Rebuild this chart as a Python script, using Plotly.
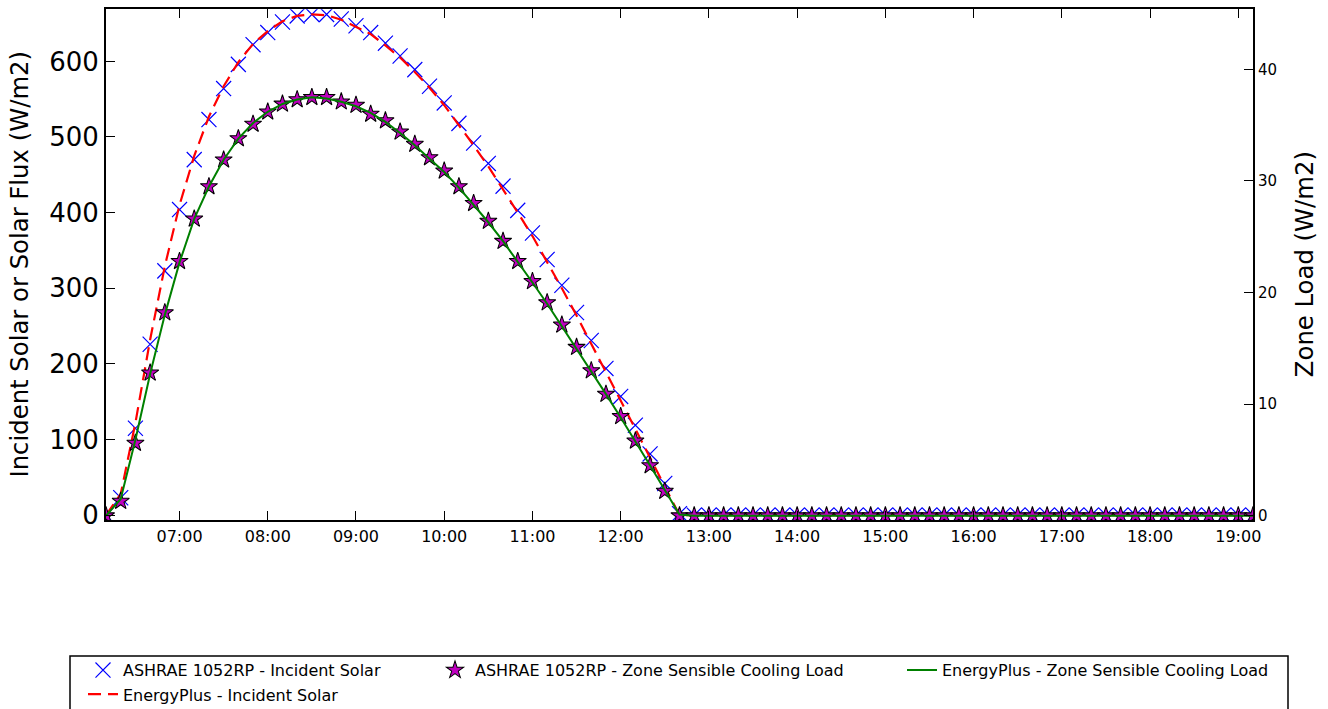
import plotly.graph_objects as go

# ---------------- data ----------------
times = [
    "06:10", "06:20", "06:30", "06:40", "06:50",
    "07:00", "07:10", "07:20", "07:30", "07:40", "07:50",
    "08:00", "08:10", "08:20", "08:30", "08:40", "08:50",
    "09:00", "09:10", "09:20", "09:30", "09:40", "09:50",
    "10:00", "10:10", "10:20", "10:30", "10:40", "10:50",
    "11:00", "11:10", "11:20", "11:30", "11:40", "11:50",
    "12:00", "12:10", "12:20", "12:30", "12:40", "12:50",
    "13:00", "13:10", "13:20", "13:30", "13:40", "13:50",
    "14:00", "14:10", "14:20", "14:30", "14:40", "14:50",
    "15:00", "15:10", "15:20", "15:30", "15:40", "15:50",
    "16:00", "16:10", "16:20", "16:30", "16:40", "16:50",
    "17:00", "17:10", "17:20", "17:30", "17:40", "17:50",
    "18:00", "18:10", "18:20", "18:30", "18:40", "18:50",
    "19:00", "19:10",
]

ashrae_solar = [
    0, 23, 115, 226, 323, 404, 470, 523, 564, 596, 622,
    638, 652, 660, 662, 662, 656, 647, 638, 624, 607, 589,
    567, 545, 518, 492, 465, 435, 403, 373, 338, 304, 268,
    231, 194, 157, 119, 81, 42, 2,
    0, 0, 0, 0, 0, 0, 0, 0, 0, 0, 0, 0, 0, 0, 0, 0, 0, 0, 0, 0,
    0, 0, 0, 0, 0, 0, 0, 0, 0, 0, 0, 0, 0, 0, 0, 0, 0, 0, 0,
]

eplus_solar = [
    0, 28, 122, 232, 329, 410, 475, 527, 567, 599, 623,
    640, 653, 660, 662, 661, 655, 646, 636, 621, 605, 586,
    565, 542, 516, 489, 461, 431, 400, 369, 335, 300, 264,
    227, 190, 152, 114, 76, 37, 0,
    0, 0, 0, 0, 0, 0, 0, 0, 0, 0, 0, 0, 0, 0, 0, 0, 0, 0, 0, 0,
    0, 0, 0, 0, 0, 0, 0, 0, 0, 0, 0, 0, 0, 0, 0, 0, 0, 0, 0,
]

ashrae_load = [
    0.0, 1.3, 6.5, 12.8, 18.2, 22.8, 26.6, 29.5, 31.9, 33.8, 35.1,
    36.2, 36.9, 37.3, 37.5, 37.5, 37.1, 36.8, 36.0, 35.4, 34.4, 33.3,
    32.1, 30.9, 29.5, 28.0, 26.4, 24.6, 22.8, 21.0, 19.1, 17.1, 15.1,
    13.0, 10.9, 8.9, 6.7, 4.5, 2.2, 0.0,
    0, 0, 0, 0, 0, 0, 0, 0, 0, 0, 0, 0, 0, 0, 0, 0, 0, 0, 0, 0,
    0, 0, 0, 0, 0, 0, 0, 0, 0, 0, 0, 0, 0, 0, 0, 0, 0, 0, 0,
]

eplus_load = [
    0.0, 1.5, 6.8, 12.7, 18.0, 22.7, 26.6, 29.5, 31.9, 33.8, 35.2,
    36.2, 36.9, 37.3, 37.5, 37.4, 37.1, 36.7, 36.1, 35.3, 34.3, 33.2,
    32.0, 30.8, 29.4, 27.9, 26.3, 24.6, 22.8, 20.9, 19.0, 17.0, 15.0,
    12.9, 10.9, 8.8, 6.7, 4.5, 2.3, 0.1,
    0, 0, 0, 0, 0, 0, 0, 0, 0, 0, 0, 0, 0, 0, 0, 0, 0, 0, 0, 0,
    0, 0, 0, 0, 0, 0, 0, 0, 0, 0, 0, 0, 0, 0, 0, 0, 0, 0, 0,
]

names = [
    "ASHRAE 1052RP - Incident Solar",
    "EnergyPlus - Incident Solar",
    "ASHRAE 1052RP - Zone Sensible Cooling Load",
    "EnergyPlus - Zone Sensible Cooling Load",
]

left_ticks = [0, 100, 200, 300, 400, 500, 600]
right_ticks = [0, 10, 20, 30, 40]

DAY = "2000-01-01 "
x = [DAY + t for t in times]

FONT = "DejaVu Sans"

# ---------------- layout geometry (pixels) ----------------
W, H = 1328, 709
L, R, T, B = 106, 75, 7, 190
PW = W - L - R
PH = H - T - B


def px_x(p):
    return (p - L) / PW


def px_y(p):
    return (H - B - p) / PH


fig = go.Figure()

fig.add_trace(go.Scatter(
    x=x, y=ashrae_solar, name=names[0], mode="markers",
    marker=dict(symbol="x-thin", size=15, color="#0000ff",
                line=dict(color="#0000ff", width=1.2)),
    legend="legend",
))
fig.add_trace(go.Scatter(
    x=x, y=eplus_solar, name=names[1], mode="lines",
    line=dict(color="#ff0000", width=2.2, dash="13px,7px"),
    legend="legend",
))
fig.add_trace(go.Scatter(
    x=x, y=ashrae_load, name=names[2], mode="markers", yaxis="y2",
    marker=dict(symbol="star", size=13, color="#bf00bf",
                line=dict(color="#000000", width=1)),
    legend="legend2",
))
fig.add_trace(go.Scatter(
    x=x, y=eplus_load, name=names[3], mode="lines", yaxis="y2",
    line=dict(color="#008000", width=2),
    legend="legend3",
))

axis_common = dict(
    showgrid=False, zeroline=False, showline=True, linecolor="black",
    linewidth=2, ticks="inside", ticklen=9, tickwidth=1, tickcolor="black",
)

legend_common = dict(
    bgcolor="rgba(0,0,0,0)", borderwidth=0,
    font=dict(family=FONT, size=16, color="black"),
    orientation="v", xanchor="left", yanchor="top",
    tracegroupgap=0,
)

fig.update_layout(
    width=W, height=H,
    margin=dict(l=L, r=R, t=T, b=B, pad=0),
    paper_bgcolor="white", plot_bgcolor="white",
    font=dict(family=FONT, color="black"),
    showlegend=True,
    xaxis=dict(
        **axis_common, mirror="ticks", type="date",
        range=[DAY + times[0], DAY + times[-1]],
        tick0=DAY + "07:00", dtick=3600000, tickformat="%H:%M",
        tickfont=dict(family=FONT, size=16, color="black"),
    ),
    yaxis=dict(
        **axis_common, range=[-6.6, 669], tickvals=left_ticks,
        tickfont=dict(family=FONT, size=26, color="black"),
    ),
    yaxis2=dict(
        **axis_common, overlaying="y", side="right",
        range=[-0.4, 45.4], tickvals=right_ticks,
        tickfont=dict(family=FONT, size=15, color="black"),
    ),
    legend=dict(**legend_common, x=px_x(83), y=px_y(652)),
    legend2=dict(**legend_common, x=px_x(435), y=px_y(652)),
    legend3=dict(**legend_common, x=px_x(902), y=px_y(652)),
)

# axis titles
fig.add_annotation(
    text="Incident Solar or Solar Flux (W/m2)", textangle=-90,
    xref="paper", yref="paper", x=0, y=0.5, xshift=20 - L,
    xanchor="center", yanchor="middle", showarrow=False,
    font=dict(family=FONT, size=24, color="black"),
)
fig.add_annotation(
    text="Zone Load (W/m2)", textangle=-90,
    xref="paper", yref="paper", x=1, y=0.5, xshift=1305 - (W - R),
    xanchor="center", yanchor="middle", showarrow=False,
    font=dict(family=FONT, size=24, color="black"),
)

# legend frame
fig.add_shape(
    type="rect", xref="paper", yref="paper",
    x0=px_x(70), x1=px_x(1288), y0=px_y(655), y1=px_y(716),
    line=dict(color="black", width=1.5), fillcolor="rgba(0,0,0,0)",
    layer="above",
)

fig.write_html(
    "out.html",
    config={"displayModeBar": False},
    post_script=(
        "document.documentElement.style.margin='0px';"
        "document.documentElement.style.overflow='hidden';"
        "document.body.style.margin='0px';"
        "document.body.style.padding='0px';"
        "document.body.style.overflow='hidden';"
        "var gd=document.getElementById('{plot_id}');"
        "gd.style.position='fixed';gd.style.top='0px';gd.style.left='0px';"
        "gd.style.transformOrigin='0 0';"
        "gd.style.transform='scale(1,1.014)';"
    ),
)
